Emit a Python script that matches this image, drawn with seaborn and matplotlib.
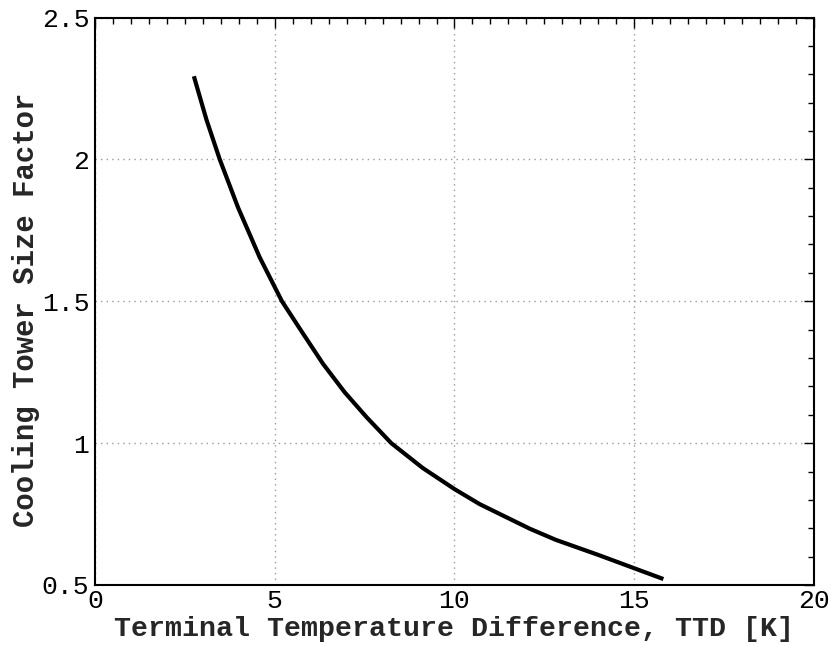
import matplotlib
matplotlib.use("Agg")
import matplotlib.pyplot as plt
import seaborn as sns
import pandas as pd
from matplotlib.ticker import MultipleLocator

ttd = [2.75, 3.1, 3.47, 3.98, 4.58, 5.2, 5.74, 6.34, 6.94, 7.55, 8.24, 9.12, 10.0, 10.7, 11.44, 12.1, 12.82, 14.0, 15.0, 15.81]
factor = [2.293, 2.14, 2.0, 1.83, 1.655, 1.5, 1.395, 1.28, 1.18, 1.092, 1.0, 0.912, 0.838, 0.785, 0.739, 0.698, 0.659, 0.606, 0.559, 0.521]

x_ticks = [0, 5, 10, 15, 20]
y_ticks = [0.5, 1, 1.5, 2, 2.5]
y_tick_labels = ["0.5", "1", "1.5", "2", "2.5"]

df = pd.DataFrame({"TTD": ttd, "Factor": factor})

sns.set_theme(style="white")
plt.rcParams['font.family'] = ['Liberation Mono', 'DejaVu Sans Mono']

fig = plt.figure(figsize=(8.33, 6.45), dpi=100)
ax = fig.add_axes([95/833, 60/645, (814-95)/833, (585-17.5)/645])

sns.lineplot(data=df, x="TTD", y="Factor", ax=ax, color="black", linewidth=3,
             sort=False, solid_joinstyle="round", solid_capstyle="butt")

ax.set_xlim(0, 20)
ax.set_ylim(0.5, 2.5)
ax.set_xticks(x_ticks)
ax.set_xticklabels([str(v) for v in x_ticks])
ax.set_yticks(y_ticks)
ax.set_yticklabels(y_tick_labels)
ax.xaxis.set_minor_locator(MultipleLocator(0.5))
ax.yaxis.set_minor_locator(MultipleLocator(0.1))

ax.grid(True, which="major", linestyle=(0, (1, 3)), color="#999999", linewidth=1)
ax.tick_params(which="both", direction="in", top=True, right=True, colors="black")
ax.tick_params(which="major", length=7, width=1, labelsize=19, pad=3)
ax.tick_params(which="minor", length=4, width=1)
ax.tick_params(axis="y", which="major", pad=4)

for s in ax.spines.values():
    s.set_color("black")
    s.set_linewidth(1.5)

ax.set_xlabel("Terminal Temperature Difference, TTD [K]", fontsize=20.3, fontweight="bold", labelpad=2)
ax.set_ylabel("Cooling Tower Size Factor", fontsize=20.9, fontweight="bold", labelpad=3)
ax.yaxis.set_label_coords(-0.077, 0.485)

fig.savefig("out.png", dpi=100, facecolor="white")
